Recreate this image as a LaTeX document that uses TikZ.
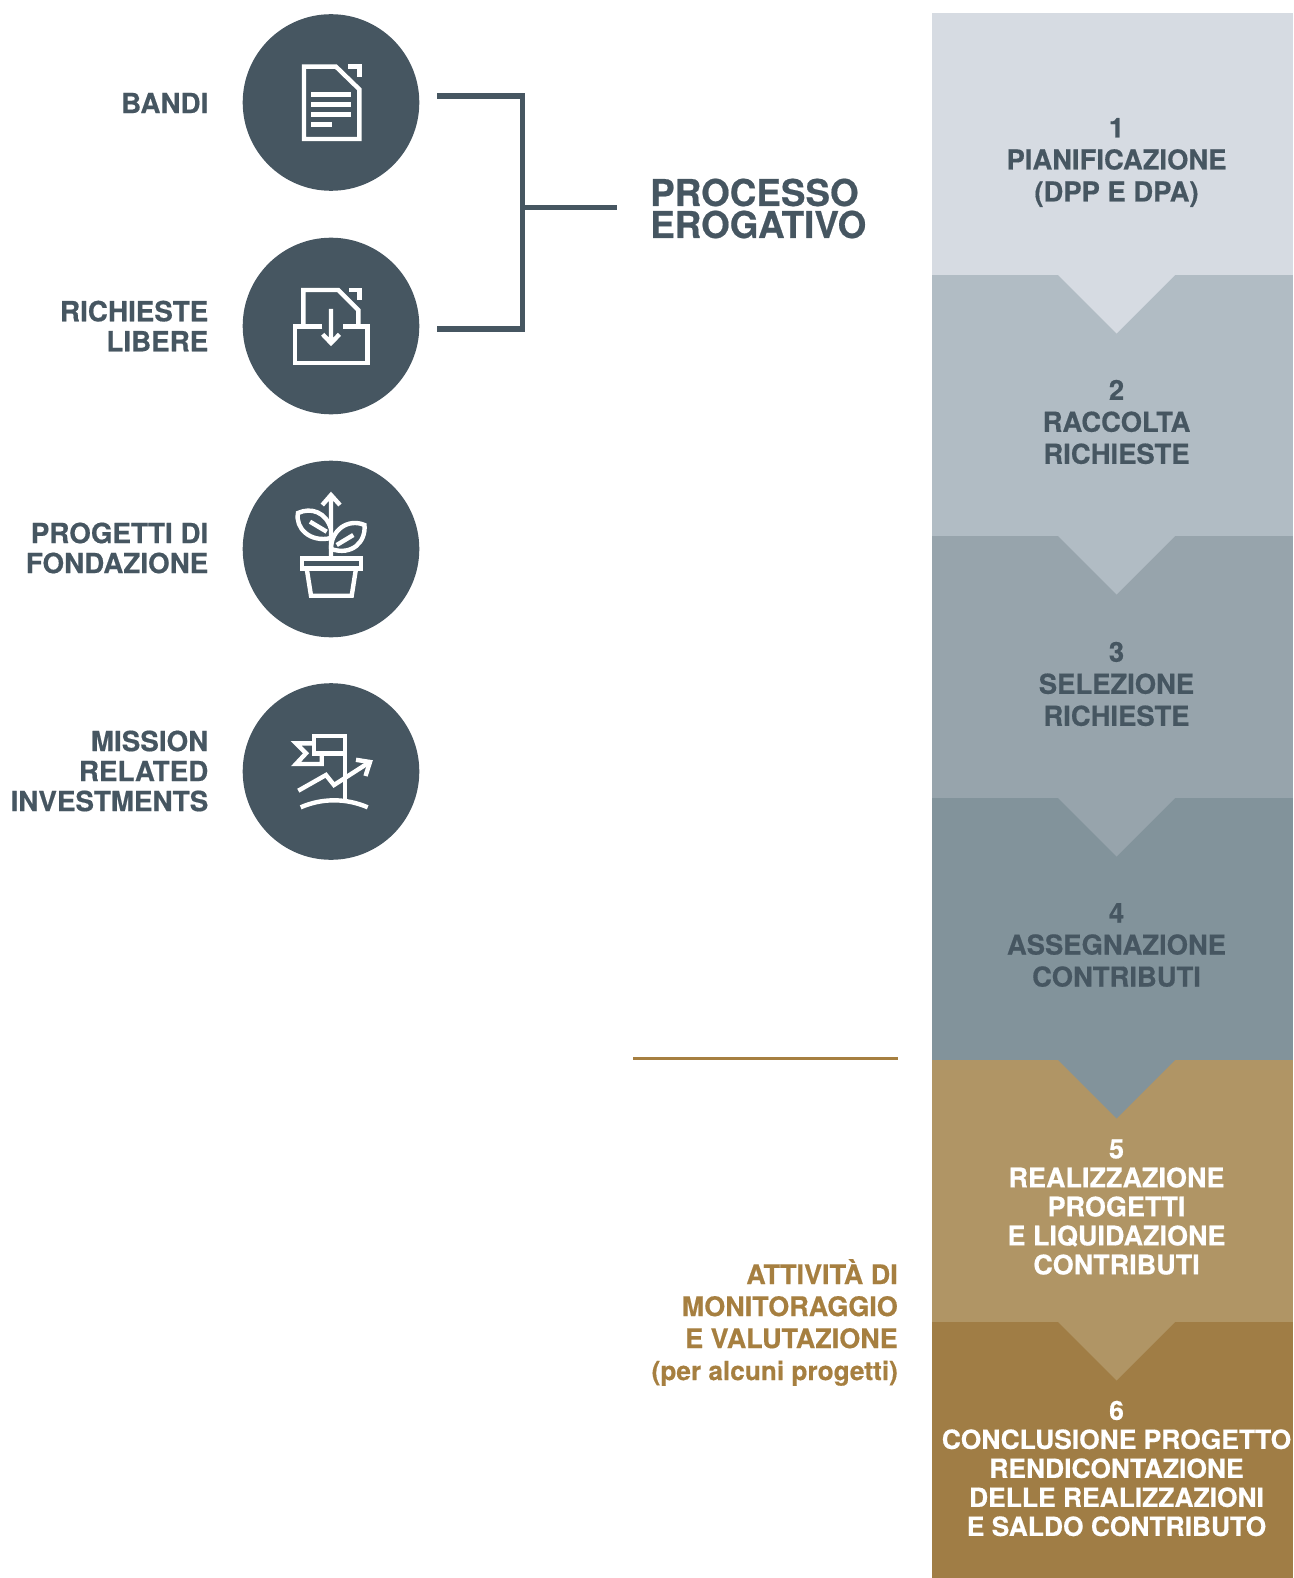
\documentclass[tikz,border=0pt]{standalone}
\usepackage{fontspec}
\setmainfont{TeX Gyre Heros}[BoldFeatures={FakeBold=0.5}]
\definecolor{slate}{HTML}{465661}
\definecolor{bandA}{HTML}{D6DBE2}
\definecolor{bandB}{HTML}{B1BCC4}
\definecolor{bandC}{HTML}{97A4AC}
\definecolor{bandD}{HTML}{82939B}
\definecolor{bandE}{HTML}{B09565}
\definecolor{bandF}{HTML}{A07D45}
\definecolor{gold}{HTML}{A67F40}
\begin{document}
\begin{tikzpicture}[x=1pt,y=-1pt,
    round node/.style={circle,fill=slate,minimum size=176.6pt,inner sep=0pt},
    left label/.style={anchor=east,align=right,text=slate,font=\bfseries\fontsize{27.8}{30}\selectfont,inner sep=0pt},
    band label/.style={align=center,text=slate,font=\bfseries\fontsize{27.4}{32}\selectfont,inner sep=0pt},
    white label/.style={align=center,text=white,font=\bfseries\fontsize{27}{29}\selectfont,inner sep=0pt},
    icon/.style={draw=white,line width=4.4pt,miter limit=6},
    bracket/.style={draw=slate,line width=5.3pt}]

    \useasboundingbox (0,0) rectangle (1293,1578);

    % bands
    \fill[bandA] (932,13) rectangle (1293,275);
    \fill[bandB] (932,275) rectangle (1293,536);
    \fill[bandC] (932,536) rectangle (1293,798);
    \fill[bandD] (932,798) rectangle (1293,1060);
    \fill[bandE] (932,1060) rectangle (1293,1322);
    \fill[bandF] (932,1322) rectangle (1293,1578);
    \fill[bandA] (1058,275) -- (1175,275) -- (1116.5,333.5) -- cycle;
    \fill[bandB] (1058,536) -- (1175,536) -- (1116.5,594.5) -- cycle;
    \fill[bandC] (1058,798) -- (1175,798) -- (1116.5,856.5) -- cycle;
    \fill[bandD] (1058,1060) -- (1175,1060) -- (1116.5,1118.5) -- cycle;
    \fill[bandE] (1058,1322) -- (1175,1322) -- (1116.5,1380.5) -- cycle;

    \node[band label] at (1116.5,162.5) (pianificazione) {1\\PIANIFICAZIONE\\(DPP E DPA)};
    \node[band label] at (1116.5,422) (raccolta) {2\\RACCOLTA\\RICHIESTE};
    \node[band label] at (1116.5,684) (selezione) {3\\SELEZIONE\\RICHIESTE};
    \node[band label] at (1116.5,945) (assegnazione) {4\\ASSEGNAZIONE\\CONTRIBUTI};
    \node[white label] at (1116.5,1207) (realizzazione) {5\\REALIZZAZIONE\\PROGETTI\\E LIQUIDAZIONE\\CONTRIBUTI};
    \node[white label,font=\bfseries\fontsize{26.4}{29}\selectfont] at (1116.5,1468.5) (conclusione) {6\\CONCLUSIONE PROGETTO\\RENDICONTAZIONE\\DELLE REALIZZAZIONI\\E SALDO CONTRIBUTO};

    % circles
    \node[round node] at (331,102.5) (bandi) {};
    \node[round node] at (331,326) (richieste) {};
    \node[round node] at (331,549) (progetti) {};
    \node[round node] at (331,771.5) (mission) {};

    \node[left label] at (208.5,103) (bandilabel) {BANDI};
    \node[left label] at (208.5,326) (richiestelabel) {RICHIESTE\\LIBERE};
    \node[left label] at (208.5,548) (progettilabel) {PROGETTI DI\\FONDAZIONE};
    \node[left label] at (208.5,771) (missionlabel) {MISSION\\RELATED\\INVESTMENTS};

    % bracket
    \node[anchor=west,align=left,text=slate,inner sep=0pt,font=\bfseries\fontsize{36.8}{32}\selectfont] at (650,208.5) (processo) {PROCESSO\\EROGATIVO};
    \coordinate (bandiend) at (437,96);
    \coordinate (richiesteend) at (437,329);
    \coordinate (joint) at (522.5,207.5);
    \coordinate (processoend) at (617,207.5);
    \draw[bracket] (bandiend) -| (joint) |- (richiesteend);
    \draw[bracket] (joint) -- (processoend);

    % monitoring
    \coordinate (ruleleft) at (633,1058.5);
    \coordinate (ruleright) at (898,1058.5);
    \draw[gold,line width=2.2pt] (ruleleft) -- (ruleright);
    \node[anchor=east,align=right,text=gold,inner sep=0pt,font=\bfseries\fontsize{27}{32}\selectfont] at (898,1322.5) (attivita) {ATTIVITÀ DI\\MONITORAGGIO\\E VALUTAZIONE\\{\fontsize{26.2}{32}\selectfont (per alcuni progetti)}};

    % icon document
    \draw[icon] (304,139) -- (304,66.7) -- (336,66.7) -- (359.3,89.3) -- (359.3,139) -- cycle;
    \draw[icon] (348.3,66.7) -- (359.3,66.7) -- (359.3,76.7);
    \draw[icon,line width=5pt] (311,94.3) -- (351,94.3) (311,104.3) -- (351,104.3) (311,114.3) -- (351,114.3) (311,124.3) -- (332,124.3);

    % icon tray
    \draw[icon] (303.3,326) -- (303.3,290) -- (338.3,290) -- (358.3,310) -- (358.3,326);
    \draw[icon] (349,290) -- (359.5,290) -- (359.5,300);
    \draw[icon] (322.3,326.3) -- (294.7,326.3) -- (294.7,362.7) -- (367.3,362.7) -- (367.3,326.3) -- (342.7,326.3);
    \draw[icon] (331,309) -- (331,343) (322.7,334.3) -- (331,343) -- (339.5,334.3);

    % icon plant
    \draw[icon] (331,495) -- (331,557) (322.3,505) -- (331,495) -- (340,505);
    \draw[icon] (301.7,558.5) rectangle (361,568.5);
    \draw[icon] (306.7,568.5) -- (311,595.7) -- (351.7,595.7) -- (356,568.5);
    \draw[icon] (331,529) .. controls (326,512) and (311,507) .. (298,513) .. controls (295,528) and (310,543) .. (331,538);
    \draw[icon] (310,521.7) -- (326.7,531.7);
    \draw[icon] (331,549) .. controls (331,530) and (348,518) .. (364.5,525) .. controls (366,542) and (352,556) .. (331,549);
    \draw[icon] (336.7,545) -- (353.3,535);

    % icon flag
    \draw[icon] (345,800) -- (345,735.7) -- (314,735.7) -- (314,753.3) -- (345,753.3);
    \draw[icon] (314,743.3) -- (296,743.3) -- (306,753.3) -- (296,764) -- (321.7,764) -- (321.7,753.3);
    \draw[icon] (298.3,790.7) -- (326,775) -- (334,785) -- (369,762.5);
    \draw[icon] (356,759.8) -- (370,762) -- (365.5,776);
    \draw[icon] (300.7,807.3) .. controls (322,798) and (346,798) .. (367.7,807.3);
\end{tikzpicture}
\end{document}
